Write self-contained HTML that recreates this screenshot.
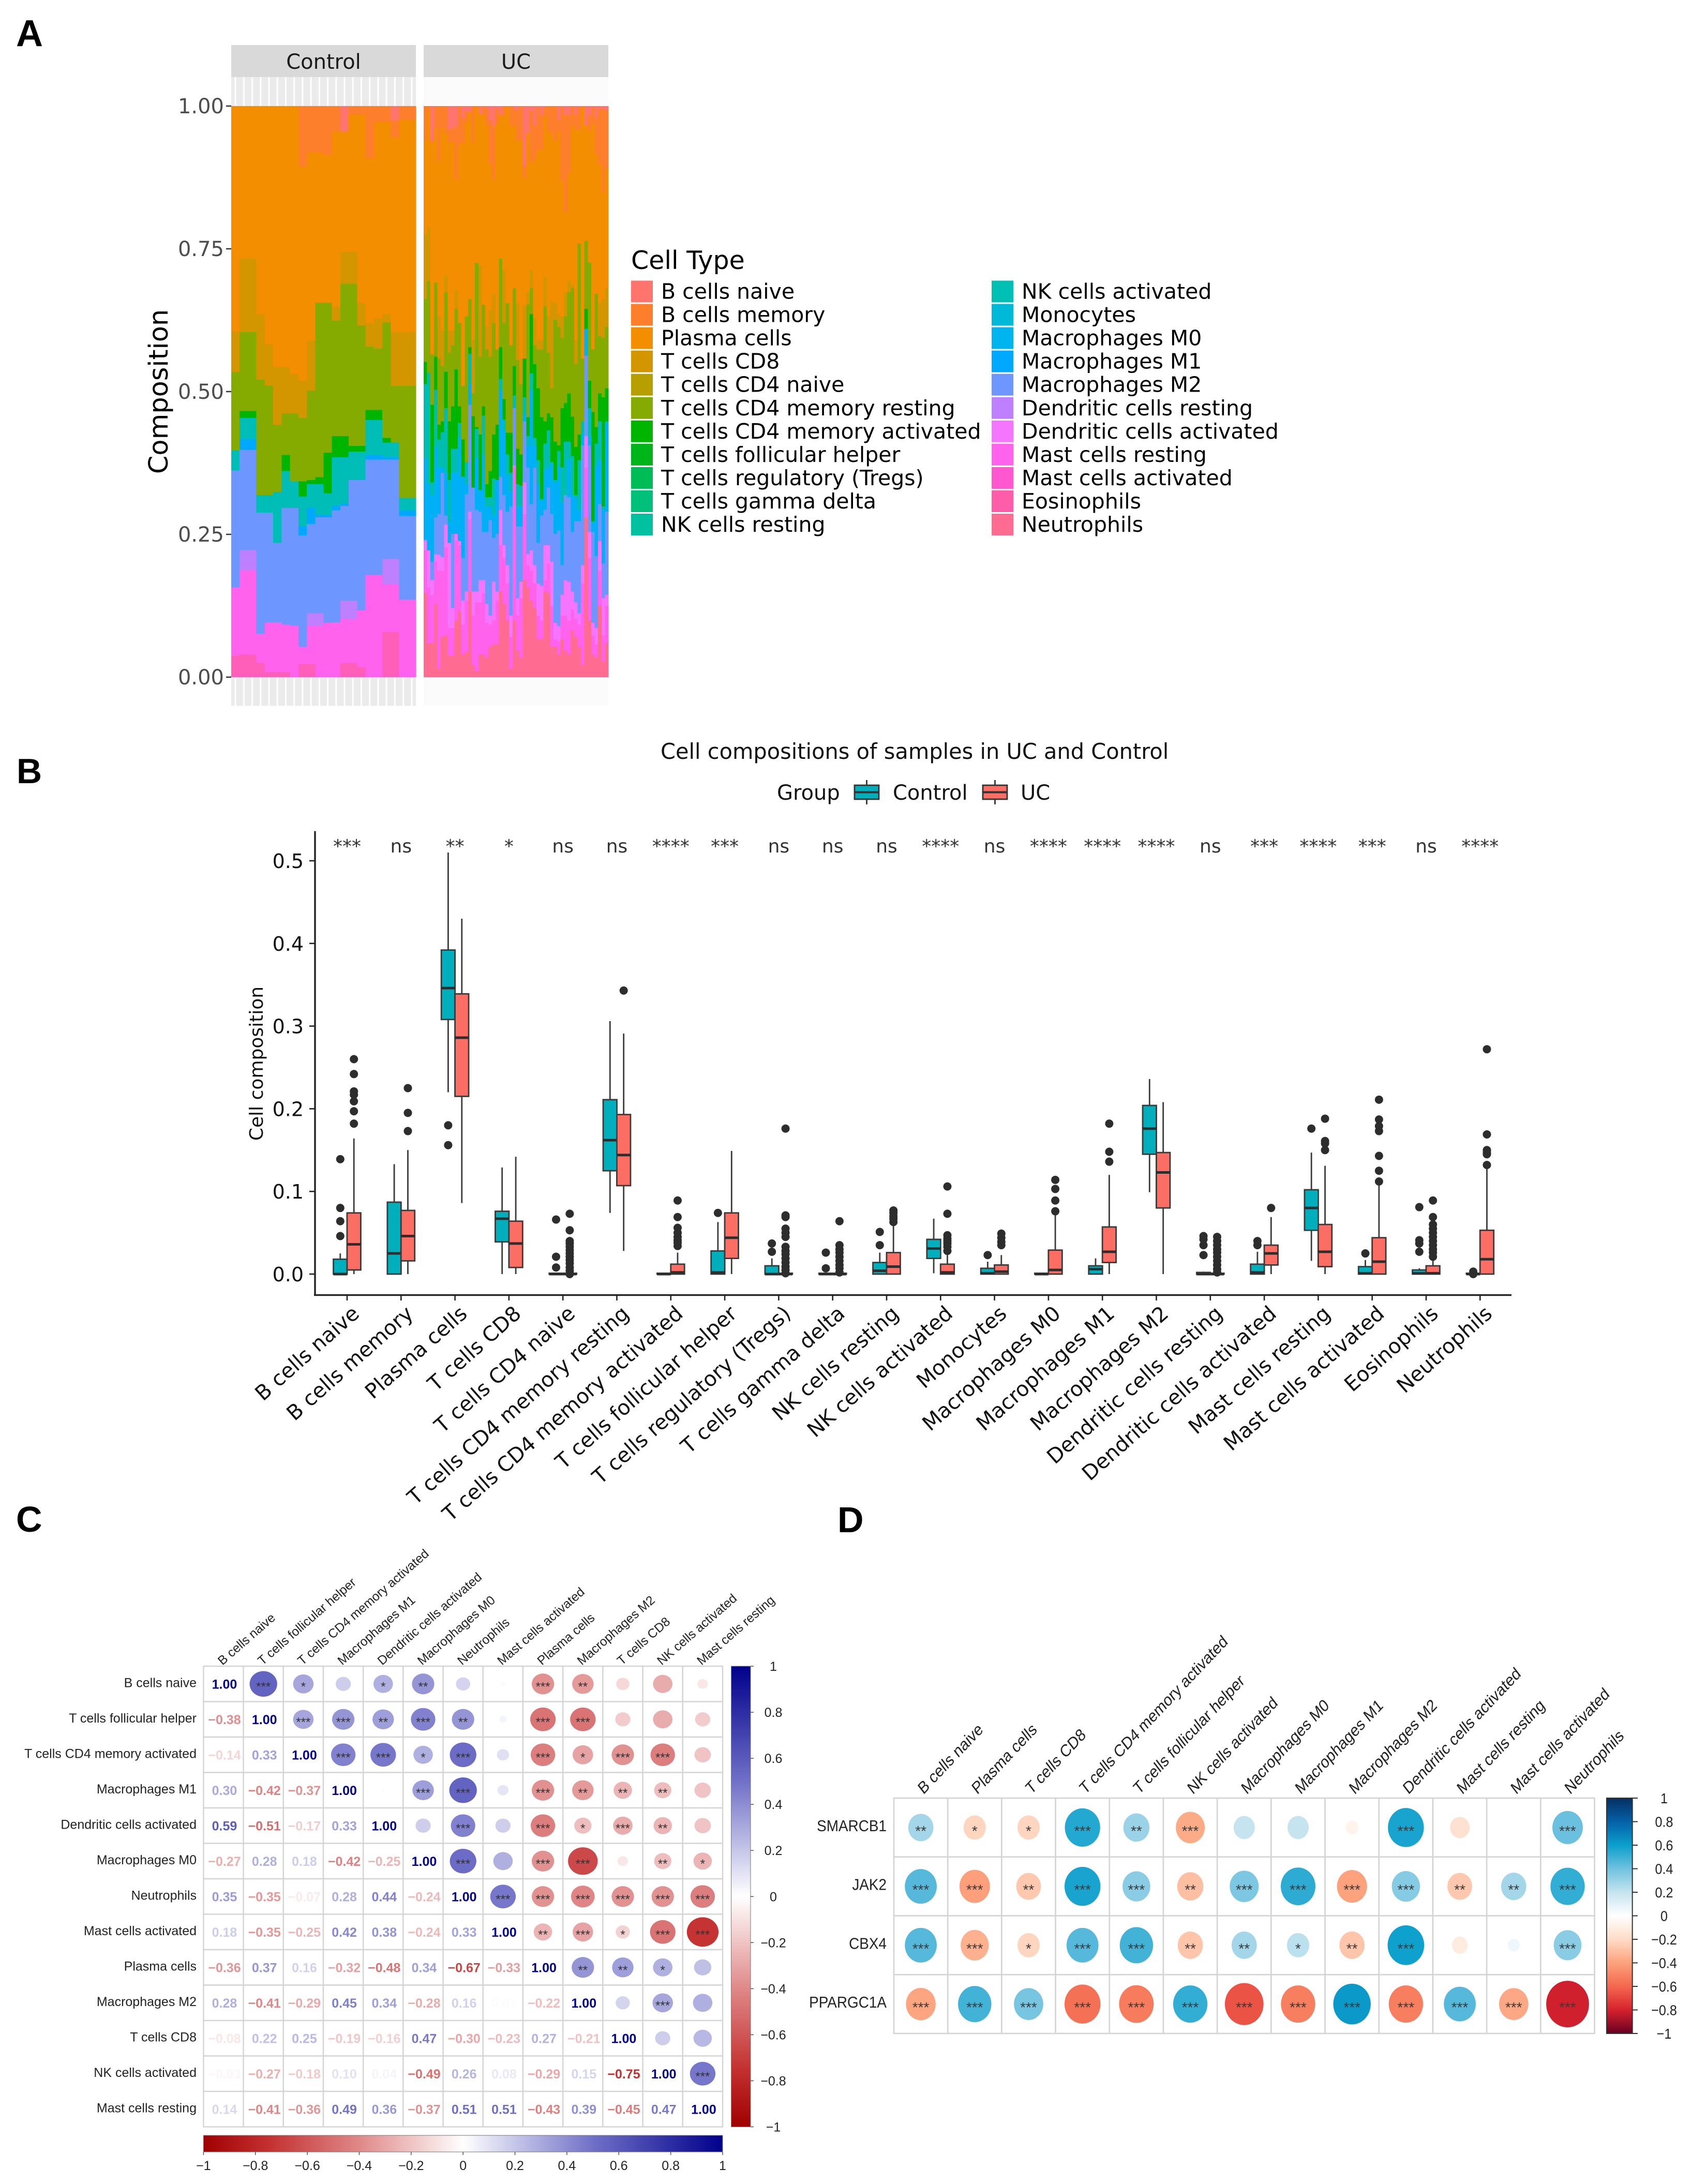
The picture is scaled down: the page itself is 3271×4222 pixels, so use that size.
<!DOCTYPE html>
<html lang="en">
<head>
<meta charset="utf-8">
<title>Immune cell composition in UC and Control</title>
<style>
html,body{margin:0;padding:0;background:#fff}
svg{display:block}
.dv{font-family:"DejaVu Sans",sans-serif}
.ls{font-family:"Liberation Sans",sans-serif}
</style>
</head>
<body>
<svg id="figure" xmlns="http://www.w3.org/2000/svg" width="3271" height="4222" viewBox="0 0 3271 4222">
<rect x="0" y="0" width="3271" height="4222" fill="#fff"/>
<defs id="gradients"></defs>
<text class="ls" x="31" y="89" font-size="72" font-weight="700">A</text>
<text class="ls" x="32" y="1514" font-size="68" font-weight="700">B</text>
<text class="ls" x="31" y="2961" font-size="70" font-weight="700">C</text>
<text class="ls" x="1619" y="2962" font-size="70" font-weight="700">D</text>
<g id="panelA">
  <rect x="447" y="87" width="357" height="62" fill="#d9d9d9"/>
  <rect x="819" y="87" width="357" height="62" fill="#d9d9d9"/>
  <text class="dv" x="625.5" y="133" font-size="40" text-anchor="middle" fill="#1a1a1a">Control</text>
  <text class="dv" x="997.5" y="133" font-size="40" text-anchor="middle" fill="#1a1a1a">UC</text>
  <text class="dv" transform="translate(324,757) rotate(-90)" font-size="51" text-anchor="middle" fill="#000">Composition</text>
  <text class="dv" x="1220" y="520" font-size="49" fill="#000">Cell Type</text>
</g>
<g id="panelB">
  <text class="dv" x="1277" y="1467" font-size="41.5" fill="#111">Cell compositions of samples in UC and Control</text>
  <text class="dv" x="1502" y="1546" font-size="40" fill="#111">Group</text>
  <g>
    <line x1="1675.5" x2="1675.5" y1="1508" y2="1555" stroke="#333" stroke-width="2.8"/>
    <rect x="1652" y="1518" width="47" height="27" fill="#00afbb" stroke="#333" stroke-width="2.8"/>
    <line x1="1652" x2="1699" y1="1531.5" y2="1531.5" stroke="#333" stroke-width="4"/>
    <text class="dv" x="1726" y="1546" font-size="40" fill="#111">Control</text>
  </g>
  <g>
    <line x1="1923.5" x2="1923.5" y1="1508" y2="1555" stroke="#333" stroke-width="2.8"/>
    <rect x="1900" y="1518" width="47" height="27" fill="#fc6e64" stroke="#333" stroke-width="2.8"/>
    <line x1="1900" x2="1947" y1="1531.5" y2="1531.5" stroke="#333" stroke-width="4"/>
    <text class="dv" x="1973" y="1546" font-size="40" fill="#111">UC</text>
  </g>
  <text class="dv" transform="translate(508,2056) rotate(-90)" font-size="36" text-anchor="middle" fill="#111">Cell composition</text>
</g>
<g id="panelC"></g>
<g id="panelD"></g>
</svg>
<script>
const NS = 'http://www.w3.org/2000/svg';
function mk(tag, attrs, parent, str) {
  const e = document.createElementNS(NS, tag);
  for (const k in attrs) e.setAttribute(k, attrs[k]);
  if (str !== undefined) e.textContent = str;
  parent.appendChild(e);
  return e;
}
function lerpStops(stops, v) {
  const c = Math.max(-1, Math.min(1, v));
  for (let i = 0; i < stops.length - 1; i++) {
    const a = stops[i], b = stops[i + 1];
    if (c >= a[0] && c <= b[0]) {
      const t = (c - a[0]) / (b[0] - a[0]);
      const pa = [1, 3, 5].map(p => parseInt(a[1].substr(p, 2), 16));
      const pb = [1, 3, 5].map(p => parseInt(b[1].substr(p, 2), 16));
      return 'rgb(' + pa.map((x, j) => Math.round(x + (pb[j] - x) * t)).join(',') + ')';
    }
  }
  return stops[stops.length - 1][1];
}

/* ---------- shared labels ---------- */
const cellTypes = ['B cells naive','B cells memory','Plasma cells','T cells CD8','T cells CD4 naive','T cells CD4 memory resting','T cells CD4 memory activated','T cells follicular helper','T cells regulatory (Tregs)','T cells gamma delta','NK cells resting','NK cells activated','Monocytes','Macrophages M0','Macrophages M1','Macrophages M2','Dendritic cells resting','Dendritic cells activated','Mast cells resting','Mast cells activated','Eosinophils','Neutrophils'];
const cellColors = ['#ff756d','#fd7f2c','#f28e00','#d49600','#b79f00','#85aa00','#00b500','#00b51a','#00bc56','#00c07a','#00c19f','#00bfb5','#00b9d8','#00b4ef','#00a9ff','#6d96ff','#bf80ff','#f575ff','#ff63ed','#ff57cf','#ff5caa','#ff6b91'];

/* ---------- Panel A data: upper edge of each cell type in the stacked fraction ---------- */
const controlBMemoryTop = [1,1,1,1,1,1,1,1,1,1,1,1,1,.955,1,1,1,1,1,.975,1,1];
const controlPlasmaTop = [1,1,1,1,1,1,1,1,.895,.919,.919,.915,.955,.955,.985,.985,.909,.972,.972,.945,.976,.976];
const controlCD8Top = [.605,.733,.733,.636,.583,.543,.543,.531,.519,.589,.656,.656,.648,.745,.745,.656,.62,.628,.636,.604,.604,.604];
const controlCD4RestTop = [.534,.604,.604,.521,.511,.442,.462,.462,.454,.502,.656,.656,.624,.689,.689,.616,.579,.575,.621,.51,.51,.51];
const controlCD4ActTop = [.397,.466,.466,.319,.319,.324,.389,.343,.343,.345,.35,.393,.422,.422,.405,.405,.468,.468,.419,.411,.314,.314];
const controlNKTop = [.397,.454,.454,.319,.319,.324,.361,.343,.316,.338,.338,.322,.385,.385,.395,.395,.45,.45,.411,.411,.314,.314];
const controlM1Top = [.362,.417,.417,.288,.288,.235,.296,.296,.264,.296,.284,.284,.3,.304,.345,.345,.389,.389,.385,.385,.292,.292];
const controlM2Top = [.362,.398,.398,.288,.288,.235,.296,.296,.248,.268,.28,.28,.292,.3,.345,.345,.381,.381,.381,.381,.282,.282];
const controlDCRestTop = [.157,.223,.223,.076,.096,.096,.092,.09,.053,.112,.112,.095,.096,.134,.134,.117,.179,.179,.207,.207,.136,.136];
const controlMastTop = [.157,.187,.187,.076,.096,.096,.092,.09,.053,.09,.09,.095,.096,.102,.102,.117,.179,.179,.163,.163,.136,.136];
const controlEosTop = [.037,.04,.04,.025,.009,.009,.009,0,.023,.023,0,0,0,.025,.025,.017,0,0,.079,.079,0,0];

const ucBMemoryTop = [1,1,.94,1,1,1,1,.96,.96,.965,1,.98,.99,.99,1,1,.985,1,.995,.975,.965,.995,.985,1,1,1,.995,
  .992,1,.895,.953,.992,.966,.998,.985,.998,1,1,1,.976,.998,.985,.985,1,.985,.998,1,.966,.985,.998,.979,.995,.995,.992];
const ucPlasmaTop = [.94,.995,.937,.962,.904,.962,.953,.937,.937,.872,.933,.937,.972,.988,.937,.998,.985,.985,.966,.898,.872,.969,.985,.982,.998,.966,.966,
  .94,.94,.875,.953,.901,.908,.924,.924,.982,.956,.953,.94,.956,.869,.814,.882,.966,.959,.959,.998,.966,.956,.969,.917,.898,.849,.891];
const ucCD8Top = [.775,.788,.565,.691,.632,.607,.704,.607,.607,.678,.62,.51,.632,.662,.59,.725,.72,.652,.613,.642,.671,.574,.733,.713,.655,.581,.681,
  .655,.558,.652,.674,.713,.629,.59,.59,.7,.632,.658,.655,.636,.632,.674,.694,.687,.59,.759,.558,.764,.726,.574,.671,.655,.662,.681];
const ucCD4RestTop = [.662,.694,.565,.691,.558,.545,.674,.568,.581,.645,.62,.51,.632,.662,.497,.725,.561,.652,.574,.561,.62,.574,.733,.62,.655,.581,.681,
  .555,.513,.558,.652,.681,.581,.574,.574,.649,.568,.506,.626,.613,.594,.632,.674,.681,.548,.759,.558,.764,.726,.574,.671,.597,.594,.613];
const ucCD4ActTop = [.552,.533,.477,.561,.442,.448,.535,.448,.474,.539,.474,.416,.377,.578,.457,.438,.425,.474,.338,.361,.425,.442,.578,.487,.428,.428,.545,
  .4,.39,.558,.455,.636,.548,.506,.455,.448,.462,.455,.412,.406,.471,.48,.497,.456,.403,.425,.448,.645,.519,.464,.438,.497,.49,.506];
const ucNKTop = [.513,.533,.341,.503,.416,.429,.471,.345,.4,.4,.445,.315,.377,.566,.325,.435,.328,.458,.315,.315,.348,.345,.522,.451,.39,.358,.493,
  .338,.335,.49,.422,.532,.419,.38,.312,.409,.432,.377,.345,.396,.367,.412,.412,.387,.319,.38,.448,.61,.471,.273,.409,.448,.299,.448];
const ucM0Top = [.383,.338,.319,.403,.367,.367,.358,.273,.358,.358,.422,.351,.338,.513,.332,.383,.328,.39,.299,.299,.283,.345,.503,.432,.354,.325,.474,
  .299,.299,.461,.406,.503,.406,.338,.309,.364,.367,.374,.341,.37,.306,.319,.38,.319,.315,.293,.425,.609,.422,.27,.37,.38,.293,.445];
const ucM2Top = [.241,.222,.202,.28,.286,.358,.283,.235,.251,.251,.225,.209,.32,.477,.332,.293,.29,.254,.254,.275,.244,.251,.351,.319,.29,.299,.471,
  .264,.264,.448,.367,.303,.367,.235,.283,.293,.332,.286,.251,.257,.196,.319,.315,.254,.273,.273,.406,.563,.406,.254,.212,.303,.199,.29];
const ucDCActTop = [.239,.222,.17,.215,.214,.21,.267,.235,.121,.251,.238,.134,.15,.29,.15,.15,.17,.17,.128,.108,.167,.15,.293,.231,.196,.108,.37,
  .138,.167,.341,.215,.222,.196,.164,.16,.231,.231,.202,.095,.089,.144,.17,.167,.15,.131,.112,.196,.422,.254,.095,.086,.238,.138,.144];
const ucMastTop = [.222,.157,.144,.202,.186,.186,.228,.086,.086,.238,.231,.092,.134,.277,.108,.131,.131,.147,.095,.092,.099,.134,.231,.209,.164,.07,.367,
  .108,.138,.286,.196,.186,.164,.108,.099,.17,.199,.125,.066,.063,.108,.108,.099,.118,.102,.092,.164,.367,.209,.073,.057,.186,.073,.125];
const ucNeutTop = [.147,.06,.06,.128,.015,.07,.073,.037,.037,.099,.115,.04,.044,.15,.021,.011,.04,.04,.034,.053,.057,.057,.15,.128,.099,.015,.099,
  .047,.034,.17,.157,.134,.121,.066,.066,.15,.147,.053,.053,.04,.066,.047,.04,.082,.07,.053,.021,.28,.099,.04,.034,.125,.027,.06];
const compositionTicks = [0, 0.25, 0.5, 0.75, 1];

/* ---------- Panel A drawing ---------- */
(function () {
  const g = document.getElementById('panelA');
  const yA = v => 1309 - v * 1104;
  const controlLayers = [
    ['#ff756d', null, controlBMemoryTop], ['#fd7f2c', controlBMemoryTop, controlPlasmaTop], ['#f28e00', controlPlasmaTop, controlCD8Top],
    ['#d49600', controlCD8Top, controlCD4RestTop], ['#85aa00', controlCD4RestTop, controlCD4ActTop], ['#00b500', controlCD4ActTop, controlNKTop],
    ['#00bdb8', controlNKTop, controlM1Top], ['#00a9ff', controlM1Top, controlM2Top], ['#6d96ff', controlM2Top, controlDCRestTop],
    ['#bf80ff', controlDCRestTop, controlMastTop], ['#ff63ed', controlMastTop, controlEosTop], ['#ff5fb8', controlEosTop, 'zero']
  ];
  const ucLayers = [
    ['#ff756d', null, ucBMemoryTop], ['#fd7f2c', ucBMemoryTop, ucPlasmaTop], ['#f28e00', ucPlasmaTop, ucCD8Top],
    ['#d49600', ucCD8Top, ucCD4RestTop], ['#85aa00', ucCD4RestTop, ucCD4ActTop], ['#00b500', ucCD4ActTop, ucNKTop],
    ['#00bdb0', ucNKTop, ucM0Top], ['#00b0f6', ucM0Top, ucM2Top], ['#6d96ff', ucM2Top, ucDCActTop],
    ['#f575ff', ucDCActTop, ucMastTop], ['#ff63ed', ucMastTop, ucNeutTop], ['#ff6b91', ucNeutTop, 'zero']
  ];
  function panel(x0, w, layers, n, isControl) {
    const bg = mk('rect', {x: x0, y: 149, width: w, height: 1215.5, fill: isControl ? '#ebebeb' : '#fbfbfb'}, g);
    
    
    const bw = w / n;
    if (isControl) {
      for (let i = 0; i < n; i++) {
        const gl = mk('line', {x1: x0 + (i + .5) * bw, x2: x0 + (i + .5) * bw, y1: 149, y2: 1364.5, stroke: '#fff', 'stroke-width': 3}, g);
        
        
      }
    }
    for (let i = 0; i < n; i++) {
      layers.forEach(L => {
        const top = L[1] === null ? 1 : L[1][i];
        const bot = L[2] === 'zero' ? 0 : L[2][i];
        if (top - bot <= 0) return;
        const r = mk('rect', {x: x0 + i * bw, y: yA(top), width: bw + .4, height: yA(bot) - yA(top), fill: L[0], 'shape-rendering': 'crispEdges'}, g);
        
        
      });
    }
  }
  panel(447, 357, controlLayers, controlPlasmaTop.length, true);
  panel(819, 357, ucLayers, ucPlasmaTop.length, false);
  compositionTicks.forEach(t => {
    const tk = mk('line', {x1: 437, x2: 447, y1: yA(t), y2: yA(t), stroke: '#333', 'stroke-width': 2.5}, g);
    
    
    const lb = mk('text', {class: 'dv', x: 433, y: yA(t) + 14, 'font-size': 40, 'text-anchor': 'end', fill: '#4d4d4d'}, g, t.toFixed(2));
    
    
  });
  cellTypes.forEach((name, i) => {
    const col = i < 11 ? 0 : 1;
    const row = i < 11 ? i : i - 11;
    const cy = 563.5 + row * 45.05;
    const sx = col === 0 ? 1220 : 1917;
    const sw = mk('rect', {x: sx, y: cy - 21, width: 42, height: 42, fill: cellColors[i]}, g);
    
    
    const tx = mk('text', {class: 'dv', x: col === 0 ? 1278 : 1975, y: cy + 14, 'font-size': 41, fill: '#000'}, g, name);
    
    
  });
})();

/* ---------- Panel B data ---------- */
const significance = ['***','ns','**','*','ns','ns','****','***','ns','ns','ns','****','ns','****','****','****','ns','***','****','***','ns','****'];
const fractionTicks = [0, 0.1, 0.2, 0.3, 0.4, 0.5];
const controlQ3 = [.018,.087,.392,.076,.001,.211,.001,.028,.01,.001,.014,.042,.007,.001,.01,.204,.002,.012,.102,.009,.005,.001];
const controlMedian = [0,.025,.346,.067,0,.162,0,.002,0,0,.004,.031,.001,0,.006,.176,0,.002,.08,.001,.001,0];
const controlQ1 = [0,0,.308,.039,0,.125,0,0,0,0,0,.019,0,0,0,.145,0,0,.053,0,0,0];
const controlWhiskerLow = [0,0,.22,0,0,.074,0,0,0,0,0,.001,0,0,0,.099,0,0,.016,0,0,0];
const controlWhiskerHigh = [.025,.133,.51,.129,.001,.306,.001,.063,.019,.001,.026,.067,.015,.001,.019,.236,.003,.027,.147,.017,.007,.002];
const controlOutliers = [[.139,.08,.064,.046],[],[.18,.156],[],[.066,.021,.008],[],[],[.074],[.037,.027],[.026,.007],[.051,.035],[],[.023],[],[],[],[.046,.042,.035,.023],[.04,.035],[.176],[.025],[.081,.041,.037,.027],[.003,0]];
const ucQ3 = [.074,.077,.339,.064,.001,.193,.012,.074,.001,.001,.026,.012,.011,.029,.057,.147,.001,.035,.06,.044,.01,.053];
const ucMedian = [.036,.046,.286,.037,0,.144,.002,.044,0,0,.009,.002,.003,.005,.027,.123,0,.025,.027,.015,.001,.018];
const ucQ1 = [.005,.016,.215,.008,0,.107,0,.019,0,0,0,0,0,0,.014,.08,0,.011,.009,0,0,0];
const ucWhiskerLow = [0,0,.086,0,0,.028,0,0,0,0,0,0,0,0,0,0,0,0,0,0,0,0];
const ucWhiskerHigh = [.164,.15,.43,.142,.001,.291,.026,.149,.002,.002,.059,.023,.023,.071,.12,.208,.002,.069,.131,.107,.019,.132];
const ucOutliers = [[.26,.242,.221,.217,.209,.197,.182],[.225,.195,.173],[],[],[.073,.053,.04,.037,.033,.029,.025,.021,.017,.013,.008,.004,0],[.343],[.089,.069,.056,.05,.045,.041,.038,.034],[],[.176,.071,.069,.055,.05,.045,.033,.028,.024,.019,.014,.009,.005,.001],[.064,.035,.03,.026,.021,.016,.011,.007,.002],[.077,.074,.07,.067,.063],[.106,.073,.047,.043,.04,.037,.033,.028],[.049,.044,.039,.035],[.114,.103,.089,.076],[.182,.148,.136],[],[.045,.04,.035,.03,.026,.021,.016,.011,.006,.002],[.08],[.188,.161,.158,.15],[.211,.187,.179,.173,.143,.125,.112],[.089,.069,.06,.055,.05,.045,.04,.035,.03,.026,.021],[.272,.169,.15,.147,.145,.132]];

/* ---------- Panel B drawing ---------- */
(function () {
  const g = document.getElementById('panelB');
  const yB = v => 2463 - v * 1598;
  const xB = i => 671 + i * 104.3;
  const halfStep = 13.2, boxW = 26.5;
  const ax = mk('line', {x1: 609, x2: 609, y1: 1606.6, y2: 2505, stroke: '#222', 'stroke-width': 3.4}, g);
  
  
  const bx = mk('line', {x1: 607, x2: 2922, y1: 2503.6, y2: 2503.6, stroke: '#222', 'stroke-width': 3.4}, g);
  
  
  fractionTicks.forEach(t => {
    const tk = mk('line', {x1: 598, x2: 609, y1: yB(t), y2: yB(t), stroke: '#222', 'stroke-width': 2.6}, g);
    
    
    const lb = mk('text', {class: 'dv', x: 587, y: yB(t) + 14, 'font-size': 38, 'text-anchor': 'end', fill: '#111'}, g, t.toFixed(1));
    
    
  });
  function group(i, cx, q1, med, q3, wl, wh, outs, fill, name) {
    const wh1 = mk('line', {x1: cx, x2: cx, y1: yB(wh), y2: yB(wl), stroke: '#3a3a3a', 'stroke-width': 2.8}, g);
    
    
    const box = mk('rect', {x: cx - boxW / 2, y: yB(q3), width: boxW, height: Math.max(0, yB(q1) - yB(q3)), fill: fill, stroke: '#3a3a3a', 'stroke-width': 2.8}, g);
    
    
    const m = mk('line', {x1: cx - boxW / 2, x2: cx + boxW / 2, y1: yB(med), y2: yB(med), stroke: '#2d2d2d', 'stroke-width': 5}, g);
    
    
    outs.forEach(o => {
      const c = mk('circle', {cx: cx, cy: yB(o), r: 8, fill: '#2d2d2d'}, g);
      
      
    });
  }
  cellTypes.forEach((name, i) => {
    const x = xB(i);
    group(i, x - halfStep, controlQ1[i], controlMedian[i], controlQ3[i], controlWhiskerLow[i], controlWhiskerHigh[i], controlOutliers[i], '#00afbb', 'control');
    group(i, x + halfStep, ucQ1[i], ucMedian[i], ucQ3[i], ucWhiskerLow[i], ucWhiskerHigh[i], ucOutliers[i], '#fc6e64', 'uc');
    const tk = mk('line', {x1: x, x2: x, y1: 2504, y2: 2514, stroke: '#222', 'stroke-width': 2.6}, g);
    
    
    const lb = mk('text', {class: 'dv', 'font-size': 40, 'text-anchor': 'end', fill: '#111', transform: 'translate(' + (x + 26) + ',2543) rotate(-41.5)'}, g, name);
    
    
    const sg = mk('text', {class: 'dv', x: x, y: 1648, 'font-size': 36, 'text-anchor': 'middle', fill: '#333'}, g, significance[i]);
    
    
  });
})();

/* ---------- Panel C data ---------- */
const corrLabels = ['B cells naive','T cells follicular helper','T cells CD4 memory activated','Macrophages M1','Dendritic cells activated','Macrophages M0','Neutrophils','Mast cells activated','Plasma cells','Macrophages M2','T cells CD8','NK cells activated','Mast cells resting'];
const corrLowerValues = [[],[-.38],[-.14,.33],[.30,-.42,-.37],[.59,-.51,-.17,.33],[-.27,.28,.18,-.42,-.25],[.35,-.35,-.07,.28,.44,-.24],[.18,-.35,-.25,.42,.38,-.24,.33],[-.36,.37,.16,-.32,-.48,.34,-.67,-.33],[.28,-.41,-.29,.45,.34,-.28,.16,.01,-.22],[-.08,.22,.25,-.19,-.16,.47,-.30,-.23,.27,-.21],[-.03,-.27,-.18,.10,.04,-.49,.26,.08,-.29,.15,-.75],[.14,-.41,-.36,.49,.36,-.37,.51,.51,-.43,.39,-.45,.47]];
const corrUpperValues = [[.56,.31,.17,.28,.37,.15,-.02,-.37,-.34,-.13,-.28,-.08],[.31,.37,.34,.44,.37,.04,-.48,-.48,-.17,-.28,-.17],[.44,.48,.28,.52,.11,-.44,-.31,-.37,-.44,-.2],[.01,.34,.56,.09,-.37,-.34,-.25,-.22,-.2],[.17,.44,.17,-.44,-.22,-.28,-.25,-.2],[.52,.28,-.37,-.65,-.08,-.22,-.25],[.48,-.37,-.41,-.37,-.37,-.44],[-.25,-.31,-.15,-.48,-.74],[.37,.34,.28,.22],[.15,.31,.28],[.17,.25],[.48],[]];
const corrUpperStars = [[3,1,0,1,2,0,0,3,2,0,0,0],[3,3,2,3,2,0,3,3,0,0,0],[3,3,1,3,0,3,1,3,3,0],[0,3,3,0,3,2,2,2,0],[0,3,0,3,1,3,2,0],[3,0,3,3,0,2,1],[3,3,3,3,3,3],[2,3,1,3,3],[2,2,1,0],[0,3,0],[0,0],[3],[]];
const corrScaleTicks = [-1,-.8,-.6,-.4,-.2,0,.2,.4,.6,.8,1];
const corrColorStops = [[-1,'#a00000'],[-.75,'#c43030'],[-.4,'#e08888'],[0,'#ffffff'],[.5,'#7070c8'],[1,'#00008b']];

function fmtTick(t) {
  const a = Math.abs(t);
  const s = a === 0 ? '0' : a === 1 ? '1' : a.toFixed(1);
  return (t < 0 ? '\u2212' : '') + s;
}

/* ---------- Panel C drawing ---------- */
(function () {
  const g = document.getElementById('panelC');
  const x0 = 393.4, y0 = 3221, cw = 77.2, ch = 68.5, n = corrLabels.length;
  const col = v => lerpStops(corrColorStops, v);
  const x1 = x0 + n * cw, y1 = y0 + n * ch;
  corrLabels.forEach((name, r) => {
    const cy = y0 + (r + .5) * ch;
    const rl = mk('text', {class: 'ls', x: 380, y: cy + 6, 'font-size': 25, 'text-anchor': 'end', fill: '#222'}, g, name);
    
    
    const cx0 = x0 + (r + .5) * cw;
    const cl = mk('text', {class: 'ls', 'font-size': 24.5, fill: '#222', transform: 'translate(' + (cx0 - 2) + ',3220) rotate(-41)'}, g, name);
    
    
    for (let c = 0; c < n; c++) {
      const cell = mk('rect', {x: x0 + c * cw, y: y0 + r * ch, width: cw, height: ch, fill: '#fff', stroke: '#d4d4d4', 'stroke-width': 2.4}, g);
      
      
    }
  });
  corrLabels.forEach((name, r) => {
    const cy = y0 + (r + .5) * ch;
    for (let c = 0; c < n; c++) {
      const cx = x0 + (c + .5) * cw;
      if (c <= r) {
        const v = c === r ? 1 : corrLowerValues[r][c];
        const t = mk('text', {class: 'ls', x: cx + 2, y: cy + 9, 'font-size': 25, 'font-weight': 700, 'text-anchor': 'middle', fill: col(v)}, g, (v < 0 ? '\u2212' : '') + Math.abs(v).toFixed(2));
        
        
      } else {
        const v = corrUpperValues[r][c - r - 1];
        const k = Math.sqrt(Math.abs(v));
        const e = mk('ellipse', {cx: cx, cy: cy, rx: 35.6 * k, ry: 33 * k, fill: col(v)}, g);
        
        
        const st = corrUpperStars[r][c - r - 1];
        if (st > 0) {
          const s = mk('text', {class: 'ls', x: cx, y: cy + 13, 'font-size': 24, 'text-anchor': 'middle', fill: '#333'}, g, '*'.repeat(st));
          
          
        }
      }
    }
  });
  const defs = document.getElementById('gradients');
  const gv = mk('linearGradient', {id: 'corrV', x1: 0, y1: 1, x2: 0, y2: 0}, defs);
  const gh = mk('linearGradient', {id: 'corrH', x1: 0, y1: 0, x2: 1, y2: 0}, defs);
  corrColorStops.forEach(s => {
    mk('stop', {offset: (s[0] + 1) / 2, 'stop-color': s[1]}, gv);
    mk('stop', {offset: (s[0] + 1) / 2, 'stop-color': s[1]}, gh);
  });
  const rb = mk('rect', {x: 1413.6, y: y0, width: 37.4, height: y1 - y0, fill: 'url(#corrV)', stroke: '#777', 'stroke-width': 1}, g);
  
  
  const bb = mk('rect', {x: x0, y: 4128, width: x1 - x0, height: 32, fill: 'url(#corrH)', stroke: '#777', 'stroke-width': 1}, g);
  
  
  corrScaleTicks.forEach(t => {
    const py = y1 - (t + 1) / 2 * (y1 - y0);
    const px = x0 + (t + 1) / 2 * (x1 - x0);
    const tr = mk('line', {x1: 1451, x2: 1457, y1: py, y2: py, stroke: '#555', 'stroke-width': 1.5}, g);
    
    
    const lr = mk('text', {class: 'ls', x: 1495, y: py + 9, 'font-size': 25, 'text-anchor': 'middle', fill: '#222'}, g, fmtTick(t));
    
    
    const tb = mk('line', {x1: px, x2: px, y1: 4160, y2: 4166, stroke: '#555', 'stroke-width': 1.5}, g);
    
    
    const lb = mk('text', {class: 'ls', x: px, y: 4195, 'font-size': 25, 'text-anchor': 'middle', fill: '#222'}, g, fmtTick(t));
    
    
  });
})();

/* ---------- Panel D data ---------- */
const geneLabels = ['SMARCB1','JAK2','CBX4','PPARGC1A'];
const geneCellLabels = ['B cells naive','Plasma cells','T cells CD8','T cells CD4 memory activated','T cells follicular helper','NK cells activated','Macrophages M0','Macrophages M1','Macrophages M2','Dendritic cells activated','Mast cells resting','Mast cells activated','Neutrophils'];
const smarcb1Values = [.28,-.22,-.22,.55,.30,-.37,.20,.20,-.07,.57,-.17,.004,.41];
const jak2Values = [.45,-.41,-.27,.57,.34,-.30,.37,.53,-.40,.35,-.27,.28,.52];
const cbx4Values = [.45,-.35,-.22,.45,.49,-.28,.28,.22,-.28,.59,-.11,.06,.34];
const ppargc1aValues = [-.39,.49,.38,-.57,-.53,.52,-.66,-.52,.62,-.52,.45,-.38,-.81];
const smarcb1Stars = [2,1,1,3,2,3,0,0,0,3,0,0,3];
const jak2Stars = [3,3,2,3,3,2,3,3,3,3,2,2,3];
const cbx4Stars = [3,3,1,3,3,2,2,1,2,3,0,0,3];
const ppargc1aStars = [3,3,3,3,3,3,3,3,3,3,3,3,3];
const geneScaleTicks = [-1,-.8,-.6,-.4,-.2,0,.2,.4,.6,.8,1];
const geneColorStops = [[-1,'#67001f'],[-.8,'#d6222e'],[-.6,'#f4684e'],[-.4,'#fca27c'],[-.2,'#fedcc8'],[0,'#ffffff'],[.2,'#c5e4f0'],[.4,'#6fc2df'],[.6,'#0a9fcd'],[.8,'#0560a8'],[1,'#053061']];

/* ---------- Panel D drawing ---------- */
(function () {
  const g = document.getElementById('panelD');
  const x0 = 1728, y0 = 3476, cw = 104.2, ch = 113.75;
  const rows = [smarcb1Values, jak2Values, cbx4Values, ppargc1aValues];
  const starRows = [smarcb1Stars, jak2Stars, cbx4Stars, ppargc1aStars];
  const col = v => lerpStops(geneColorStops, v);
  const x1 = x0 + 13 * cw, y1 = y0 + 4 * ch;
  geneCellLabels.forEach((name, c) => {
    const cx = x0 + (c + .5) * cw;
    const t = mk('text', {class: 'ls', 'font-size': 33, fill: '#222', transform: 'translate(' + (cx + 5) + ',3470) scale(.85,1) rotate(-42)'}, g, name);
    
    
  });
  geneLabels.forEach((name, r) => {
    const cy = y0 + (r + .5) * ch;
    const t = mk('text', {class: 'ls', 'font-size': 31, 'text-anchor': 'end', fill: '#222', transform: 'translate(1714,' + (cy + 7) + ') scale(.9,1)'}, g, name);
    
    
    rows[r].forEach((v, c) => {
      const cell = mk('rect', {x: x0 + c * cw, y: y0 + r * ch, width: cw, height: ch, fill: '#fff', stroke: '#d4d4d4', 'stroke-width': 2.6}, g);
      
      
    });
  });
  geneLabels.forEach((name, r) => {
    const cy = y0 + (r + .5) * ch;
    rows[r].forEach((v, c) => {
      const cx = x0 + (c + .5) * cw;
      const k = Math.sqrt(Math.abs(v));
      const e = mk('ellipse', {cx: cx, cy: cy, rx: 46 * k, ry: 50 * k, fill: col(v)}, g);
      
      
      const st = starRows[r][c];
      if (st > 0) {
        const s = mk('text', {class: 'ls', x: cx, y: cy + 16, 'font-size': 28, 'text-anchor': 'middle', fill: '#3a3a3a'}, g, '*'.repeat(st));
        
        
      }
    });
  });
  const defs = document.getElementById('gradients');
  const gv = mk('linearGradient', {id: 'geneV', x1: 0, y1: 1, x2: 0, y2: 0}, defs);
  geneColorStops.forEach(s => {
    mk('stop', {offset: (s[0] + 1) / 2, 'stop-color': s[1]}, gv);
  });
  const bar = mk('rect', {x: 3106, y: y0, width: 49.7, height: y1 - y0, fill: 'url(#geneV)', stroke: '#333', 'stroke-width': 2}, g);
  
  
  geneScaleTicks.forEach(t => {
    const py = y1 - (t + 1) / 2 * (y1 - y0);
    const tk = mk('line', {x1: 3155, x2: 3166, y1: py, y2: py, stroke: '#333', 'stroke-width': 2}, g);
    
    
    const lb = mk('text', {class: 'ls', 'font-size': 28, 'text-anchor': 'middle', fill: '#222', transform: 'translate(3217,' + (py + 10) + ') scale(.9,1)'}, g, fmtTick(t));
    
    
  });
})();
</script>
</body>
</html>
